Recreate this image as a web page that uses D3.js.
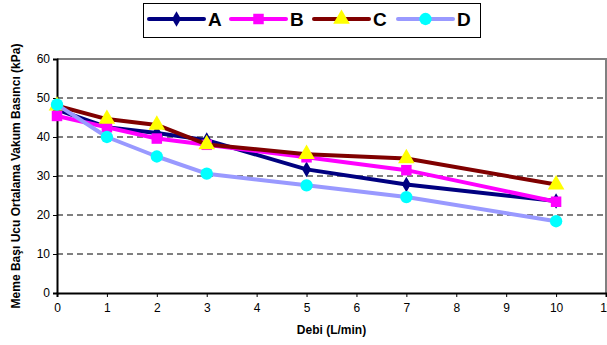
<!DOCTYPE html>
<html><head><meta charset="utf-8">
<script src="https://cdn.jsdelivr.net/npm/d3@7"></script>
<style>body{margin:0;background:#fff}svg{display:block;font-family:Arial,"Liberation Sans",sans-serif}</style>
</head><body><svg id="c" width="607" height="345"></svg>
<script>
const flows = [0, 1, 2, 3, 5, 7, 10];
const seriesA = [47.0, 42.5, 41.0, 39.2, 31.7, 27.8, 23.6];
const seriesB = [45.4, 42.5, 39.6, 38.0, 34.8, 31.5, 23.4];
const seriesC = [48.0, 44.6, 43.1, 38.1, 35.6, 34.5, 27.8];
const seriesD = [48.3, 40.0, 35.0, 30.6, 27.6, 24.6, 18.4];
const xTicks = [0,1,2,3,4,5,6,7,8,9,10,11];
const yTicks = [0,10,20,30,40,50,60];
const names = ["A","B","C","D"];
const lineColors = ["#000080","#FF00FF","#800000","#9999FF"];
const markerColors = ["#000080","#FF00FF","#FFFF00","#00FFFF"];
const markerTypes = [d3.symbolDiamond, d3.symbolSquare, d3.symbolTriangle, d3.symbolCircle];
const markerSizes = [70, 110, 120, 120];
const allSeries = [seriesA, seriesB, seriesC, seriesD];

const svg = d3.select("#c");
const L = 57, R = 606, T = 59, B = 293;
const x = d3.scaleLinear().domain([0, 11]).range([L, R]);
const y = d3.scaleLinear().domain([0, 60]).range([B, T]);

// gridlines
svg.append("g").selectAll("line").data(yTicks.filter(v => v > 0 && v < 60)).join("line")
  .attr("x1", L).attr("x2", R).attr("y1", d => y(d)).attr("y2", d => y(d))
  .attr("stroke", "#000").attr("stroke-width", 1).attr("stroke-dasharray", "6,4");
// top/right border
svg.append("path").attr("d", `M${L},${y(60)}H${R}V${B}`).attr("fill","none")
  .attr("stroke","#808080").attr("stroke-width",2);

// axes
const yAxis = svg.append("g").attr("transform", `translate(${L},0)`)
  .call(d3.axisLeft(y).tickValues(yTicks).tickSize(4).tickPadding(3));
const xAxis = svg.append("g").attr("transform", `translate(0,${B})`)
  .call(d3.axisBottom(x).tickValues(xTicks).tickSize(4).tickPadding(6));
[yAxis, xAxis].forEach(a => {
  a.select(".domain").attr("stroke", "#000").attr("stroke-width", 2);
  a.selectAll(".tick line").attr("stroke", "#000");
  a.selectAll("text").attr("font-size", 12).attr("fill", "#000").attr("font-family","Arial, 'Liberation Sans', sans-serif");
});

// series
const line = d3.line().x((d, i) => x(flows[i])).y(d => y(d));
allSeries.forEach((s, k) => {
  const g = svg.append("g");
  g.append("path").datum(s).attr("d", line).attr("fill", "none")
    .attr("stroke", lineColors[k]).attr("stroke-width", 4).attr("stroke-linejoin","round");
  g.selectAll("path.m").data(s).join("path").attr("class","m")
    .attr("transform", (d, i) => `translate(${x(flows[i])},${y(d)})`)
    .attr("d", d3.symbol().type(markerTypes[k]).size(markerSizes[k]))
    .attr("fill", markerColors[k]);
});

// axis titles
svg.append("text").attr("x", (L + R) / 2).attr("y", 334).attr("text-anchor", "middle")
  .attr("font-size", 12).attr("font-weight", "bold").text("Debi (L/min)");
svg.append("text").attr("transform", `translate(20,${(T + B) / 2}) rotate(-90)`)
  .attr("text-anchor", "middle").attr("font-size", 12).attr("font-weight", "bold")
  .text("Meme Başı Ucu Ortalama Vakum Basıncı (kPa)");

// legend
const lg = svg.append("g");
lg.append("rect").attr("x", 143.5).attr("y", 3.5).attr("width", 337).attr("height", 34)
  .attr("fill", "#fff").attr("stroke", "#000").attr("stroke-width", 1);
const lx = [149, 231, 314, 398];
names.forEach((n, k) => {
  lg.append("line").attr("x1", lx[k]).attr("x2", lx[k] + 55).attr("y1", 19).attr("y2", 19)
    .attr("stroke", lineColors[k]).attr("stroke-width", 4).attr("stroke-linecap","round");
  lg.append("path").attr("transform", `translate(${lx[k] + 27.5},19)`)
    .attr("d", d3.symbol().type(markerTypes[k]).size(markerSizes[k])).attr("fill", markerColors[k]);
  lg.append("text").attr("x", lx[k] + 59).attr("y", 26).attr("font-size", 19)
    .attr("font-weight", "bold").text(n);
});
</script></body></html>
